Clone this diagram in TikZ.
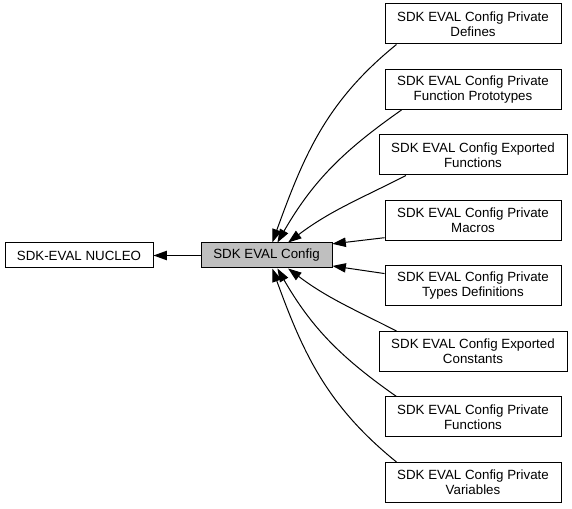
\documentclass[tikz,border=0pt]{standalone}
\usepackage{fontspec}
\setmainfont{Liberation Sans}
\usetikzlibrary{arrows.meta}
\definecolor{cfggray}{gray}{0.75}
\tikzset{
  grpbox/.style = {draw = black, line width = .75pt, fill = white, inner sep = 0pt, align = center, font = \fontsize{10}{11.25}\selectfont},
  privbox/.style = {grpbox, minimum width = 132pt, minimum height = 30pt},
  expbox/.style = {grpbox, minimum width = 141pt, minimum height = 30pt},
  grpedge/.style = {-{Triangle[length = 10pt, width = 7pt]}, line width = .75pt}
}

\begin{document}
\begin{tikzpicture}[x = .75pt, y = .75pt]
\useasboundingbox (0,0) rectangle (572,-509);
\node[grpbox, minimum width = 111pt, minimum height = 18.75pt] (nucleo) at (79,-255.5) {SDK-EVAL NUCLEO};
\node[grpbox, fill = cfggray, minimum width = 98.25pt, minimum height = 18.75pt] (config) at (266.5,-255.5) {SDK EVAL Config};
\node[privbox] (defines) at (473,-24) {SDK EVAL Config Private\\Defines};
\node[privbox] (protos) at (473,-89.5) {SDK EVAL Config Private\\Function Prototypes};
\node[expbox] (exfuncs) at (473,-155) {SDK EVAL Config Exported\\Functions};
\node[privbox] (macros) at (473,-220.5) {SDK EVAL Config Private\\Macros};
\node[privbox] (types) at (473,-286) {SDK EVAL Config Private\\Types Definitions};
\node[expbox] (exconsts) at (473,-351.5) {SDK EVAL Config Exported\\Constants};
\node[privbox] (privfuncs) at (473,-417) {SDK EVAL Config Private\\Functions};
\node[privbox] (privvars) at (473,-482.5) {SDK EVAL Config Private\\Variables};

\draw[grpedge] (config) -- (nucleo);
\draw[grpedge] (defines.195) to[out = 219, in = 70] (config.66);
\draw[grpedge] (protos.196) to[out = 215, in = 60] (config.50);
\draw[grpedge] (exfuncs.197) to[out = 207, in = 37] (config.31);
\draw[grpedge] (macros.191) -- (config.10);
\draw[grpedge] (types.172) -- (config.-9);
\draw[grpedge] (exconsts.165) to[out = 153, in = -37] (config.-31);
\draw[grpedge] (privfuncs.165) to[out = 145, in = -60] (config.-50);
\draw[grpedge] (privvars.165) to[out = 141, in = -70] (config.-66);
\end{tikzpicture}
\end{document}
